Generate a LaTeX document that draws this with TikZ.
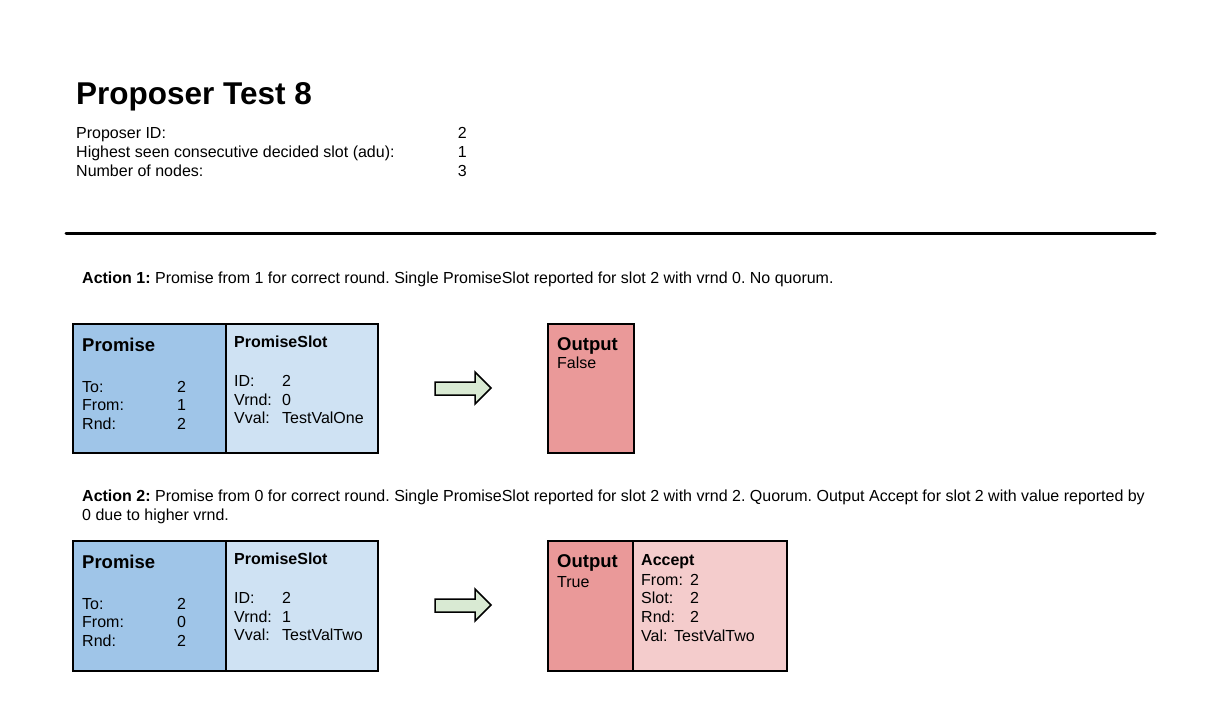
\documentclass[tikz,border=0pt]{standalone}
\usepackage{fontspec}
\setmainfont{Liberation Sans}
\frenchspacing
\definecolor{pblue}{HTML}{9FC5E8}
\definecolor{plight}{HTML}{CFE2F3}
\definecolor{ored}{HTML}{EA9999}
\definecolor{olight}{HTML}{F4CCCC}
\definecolor{agreen}{HTML}{D9EAD3}
\tikzset{
  txt/.style={anchor=base west, inner sep=0pt, font=\fontsize{16}{19}\selectfont},
  btitle/.style={anchor=base west, inner sep=0pt, font=\fontsize{18.5}{22}\selectfont\bfseries},
  stitle/.style={anchor=base west, inner sep=0pt, font=\fontsize{16}{19}\selectfont\bfseries},
  val/.style={anchor=base east, inner sep=0pt, font=\fontsize{16}{19}\selectfont},
  box/.style={draw=black, line width=1.5pt, anchor=north west, inner sep=0pt},
  blockarrow/.style={draw=black, line width=1.5pt, fill=agreen, line join=miter},
}
\begin{document}
\begin{tikzpicture}[x=1pt,y=-1pt]
\useasboundingbox (0,0) rectangle (1221,705);
% header
\node[anchor=base west, inner sep=0pt, font=\fontsize{31.5}{36}\selectfont\bfseries] (title) at (76,104) {Proposer Test 8};
\node[txt] (l1) at (76,138) {Proposer ID:};
\node[txt] (l2) at (76,157) {Highest seen consecutive decided slot (adu):};
\node[txt] (l3) at (76,176) {Number of nodes:};
\node[val] (v1) at (467,138) {2};
\node[val] (v2) at (467,157) {1};
\node[val] (v3) at (467,176) {3};
\coordinate (ruleL) at (66,233);
\coordinate (ruleR) at (1155,233);
\draw[line width=3pt, line cap=round] (ruleL) -- (ruleR);
% Action 1
\node[txt] (a1) at (82,283) {\textbf{Action 1:} Promise from 1 for correct round. Single PromiseSlot reported for slot 2 with vrnd 0. No quorum.};
\node[box, fill=pblue, minimum width=153pt, minimum height=129pt] (prom1) at (72,323) {};
\node[box, fill=plight, minimum width=152pt, minimum height=129pt] (slot1) at (225,323) {};
\node[btitle] at (82,351) {Promise};
\node[txt] at (82,392) {To:};
\node[txt] at (82,410) {From:};
\node[txt] at (82,429) {Rnd:};
\node[txt] at (177,392) {2};
\node[txt] at (177,410) {1};
\node[txt] at (177,429) {2};
\node[stitle] at (234,347) {PromiseSlot};
\node[txt] at (234,386) {ID:};
\node[txt] at (234,405) {Vrnd:};
\node[txt] at (234,423) {Vval:};
\node[txt] at (282,386) {2};
\node[txt] at (282,405) {0};
\node[txt] at (282,423) {TestValOne};
\draw[blockarrow] (435,382) -- (475,382) -- (475,372) -- (491,388) -- (475,404) -- (475,395) -- (435,395) -- cycle;
\node[box, fill=ored, minimum width=86pt, minimum height=129pt] (out1) at (547,323) {};
\node[btitle] at (557,350) {Output};
\node[txt] at (557,368) {False};
% Action 2
\node[txt] (a2a) at (82,501) {\textbf{Action 2:} Promise from 0 for correct round. Single PromiseSlot reported for slot 2 with vrnd 2. Quorum. Output Accept for slot 2 with value reported by};
\node[txt] (a2b) at (82,520) {0 due to higher vrnd.};
\node[box, fill=pblue, minimum width=153pt, minimum height=130pt] (prom2) at (72,540) {};
\node[box, fill=plight, minimum width=152pt, minimum height=130pt] (slot2) at (225,540) {};
\node[btitle] at (82,568) {Promise};
\node[txt] at (82,609) {To:};
\node[txt] at (82,627) {From:};
\node[txt] at (82,646) {Rnd:};
\node[txt] at (177,609) {2};
\node[txt] at (177,627) {0};
\node[txt] at (177,646) {2};
\node[stitle] at (234,564) {PromiseSlot};
\node[txt] at (234,603) {ID:};
\node[txt] at (234,622) {Vrnd:};
\node[txt] at (234,640) {Vval:};
\node[txt] at (282,603) {2};
\node[txt] at (282,622) {1};
\node[txt] at (282,640) {TestValTwo};
\draw[blockarrow] (435,599) -- (475,599) -- (475,589) -- (491,605) -- (475,621) -- (475,612) -- (435,612) -- cycle;
\node[box, fill=ored, minimum width=85pt, minimum height=130pt] (out2) at (547,540) {};
\node[box, fill=olight, minimum width=154pt, minimum height=130pt] (acc2) at (632,540) {};
\node[btitle] at (557,567) {Output};
\node[txt] at (557,587) {True};
\node[stitle] at (641,565) {Accept};
\node[txt] at (641,585) {From:};
\node[txt] at (641,603) {Slot:};
\node[txt] at (641,622) {Rnd:};
\node[txt] at (641,641) {Val:};
\node[txt] at (690,585) {2};
\node[txt] at (690,603) {2};
\node[txt] at (690,622) {2};
\node[txt] at (674,641) {TestValTwo};
\end{tikzpicture}
\end{document}
